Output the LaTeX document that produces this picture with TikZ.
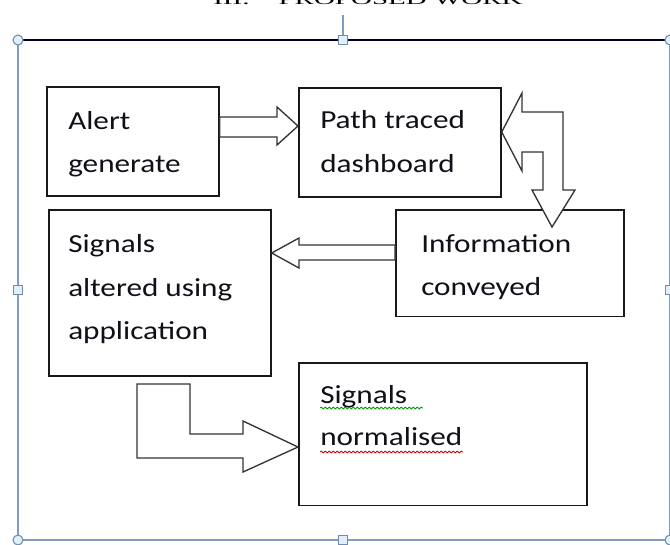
\documentclass[tikz,border=0pt]{standalone}
\usepackage{fontspec}
\setmainfont{Carlito}[FakeStretch=1.2]
\newfontfamily\headfont{Liberation Serif}
\usetikzlibrary{decorations.pathmorphing}
\definecolor{selblue}{HTML}{7E9CBF}
\definecolor{handlefill}{HTML}{DFF0FA}
\definecolor{txtcol}{HTML}{101018}
\tikzset{
  box/.style={draw=black!90, line width=1.3pt, fill=white},
  blockarrow/.style={draw=black!80, line width=1pt, fill=white, line join=miter},
  txt/.style={anchor=base west, inner sep=0pt, text=txtcol, font=\fontsize{19.5pt}{32pt}\selectfont},
  roundhandle/.style={circle, draw=selblue!90!black, fill=handlefill, line width=0.8pt, minimum size=7.5pt, inner sep=0pt},
  squarehandle/.style={rectangle, draw=selblue!90!black, fill=handlefill, line width=0.8pt, minimum size=7pt, inner sep=0pt},
  squig/.style={decorate, decoration={snake, amplitude=0.7pt, segment length=3pt}, line width=0.6pt}
}
\begin{document}
\begin{tikzpicture}[x=0.75pt, y=-0.75pt]
\useasboundingbox (0,0) rectangle (670,544);
% heading (cut off at top)
\node[anchor=base, inner sep=0pt] (head) at (368,4) {\headfont\resizebox{232pt}{7.5pt}{III.\quad PROPOSED WORK}};
% selection frame
\coordinate (ftl) at (18,40);
\coordinate (ftr) at (670,40);
\coordinate (fbl) at (18,540);
\coordinate (fbr) at (670,540);
\coordinate (rot) at (343,15);
\draw[selblue, line width=0.9pt] (ftl) -- (fbl) -- (fbr) -- (ftr);
\draw[black!85!blue, line width=1.6pt] (ftl) -- (ftr);
\draw[selblue, line width=0.9pt] (rot) -- (343,36);
\node[roundhandle] (h1) at (ftl) {};
\node[roundhandle] (h2) at (ftr) {};
\node[roundhandle] (h3) at (fbl) {};
\node[roundhandle] (h4) at (fbr) {};
\node[squarehandle] (h5) at (343,40) {};
\node[squarehandle] (h6) at (343,540) {};
\node[squarehandle] (h7) at (18,290) {};
\node[squarehandle] (h8) at (670,290) {};
% boxes
\node[box, anchor=north west, minimum width=129pt, minimum height=82pt, inner sep=0pt] (alert) at (46,86) {};
\node[box, anchor=north west, minimum width=151.5pt, minimum height=82pt, inner sep=0pt] (path) at (298,87) {};
\node[box, anchor=north west, minimum width=171pt, minimum height=80pt, inner sep=0pt] (info) at (395,209) {};
\node[box, anchor=north west, minimum width=166.5pt, minimum height=124.5pt, inner sep=0pt] (alter) at (48,209) {};
\node[box, anchor=north west, minimum width=216pt, minimum height=107pt, inner sep=0pt] (norm) at (298,362) {};
% texts
\node[txt] (t1a) at (68,129) {Alert};
\node[txt] (t1b) at (68,172) {generate};
\node[txt] (t2a) at (320,128) {Path traced};
\node[txt] (t2b) at (320,172) {dashboard};
\node[txt] (t3a) at (421,252) {Information};
\node[txt] (t3b) at (421,295) {conveyed};
\node[txt] (t4a) at (68,252) {Signals};
\node[txt] (t4b) at (68,296) {altered using};
\node[txt] (t4c) at (68,339) {application};
\node[txt] (t5a) at (320,403) {Signals};
\node[txt] (t5b) at (320,445) {normalised};
\draw[squig, green!60!black] (320,408) -- (423,408);
\draw[squig, red!80!black] (320,452) -- (463,452);
% block arrows
\draw[blockarrow] (alert.east |- 0,117) -- (277,117) -- (277,107) -- (path.west |- 0,126) -- (277,145) -- (277,137) -- (alert.east |- 0,137) -- cycle;
\draw[blockarrow] (path.east |- 0,132) -- (522,93) -- (522,112) -- (563,112) -- (563,190) -- (575,190) -- (552,227) -- (532,190) -- (543,190) -- (543,152) -- (522,152) -- (522,171) -- cycle;
\draw[blockarrow] (info.west |- 0,245) -- (299,245) -- (299,238) -- (alter.east |- 0,253) -- (299,268) -- (299,260) -- (info.west |- 0,260) -- cycle;
\draw[blockarrow] (137,384) -- (190,384) -- (190,434) -- (243,434) -- (243,421) -- (norm.west |- 0,447) -- (243,472) -- (243,458) -- (137,458) -- cycle;
\end{tikzpicture}
\end{document}
